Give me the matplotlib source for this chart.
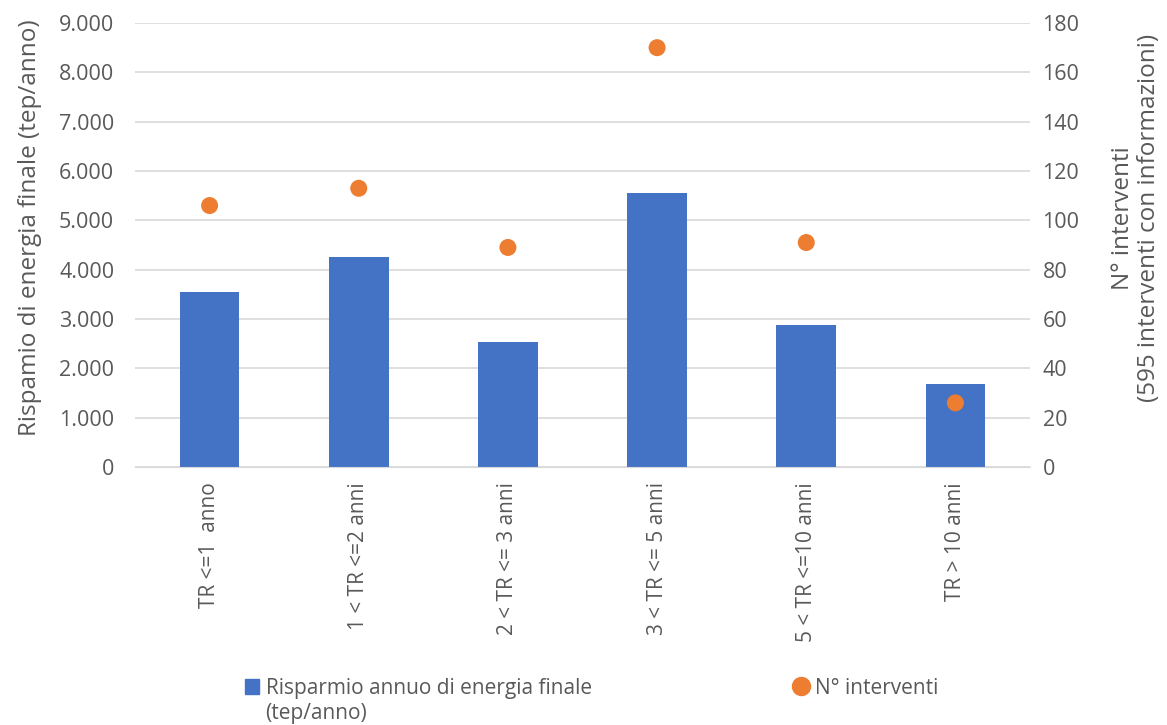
import matplotlib.pyplot as plt
from matplotlib.ticker import FuncFormatter
from matplotlib.lines import Line2D
from matplotlib.patches import Patch

# Data
categories = ['TR <=1  anno', '1 < TR <=2 anni', '2 < TR <= 3 anni',
              '3 < TR <= 5 anni', '5 < TR <=10 anni', 'TR > 10 anni']
risparmio = [3550, 4250, 2540, 5560, 2880, 1680]   # tep/anno
interventi = [106, 113, 89, 170, 91, 26]             # N° interventi

BLUE = '#4472C4'
ORANGE = '#ED7D31'
GREY = '#595959'

plt.rcParams['font.family'] = ['Open Sans', 'DejaVu Sans']

fig = plt.figure(figsize=(11.67, 7.25), dpi=100)
ax = fig.add_axes([135 / 1167, 1 - 467 / 725, 895 / 1167, 444 / 725])
ax2 = ax.twinx()

x = range(len(categories))
ax.bar(x, risparmio, width=0.4, color=BLUE, zorder=2)
ax2.scatter(x, interventi, s=150, color=ORANGE, zorder=3, edgecolors='none')

ax.set_xlim(-0.5, len(categories) - 0.5)
ax.set_ylim(0, 9000)
ax.set_yticks(range(0, 9001, 1000))
ax.yaxis.set_major_formatter(FuncFormatter(lambda v, p: f'{int(v):,}'.replace(',', '.')))
ax2.set_ylim(0, 180)
ax2.set_yticks(range(0, 181, 20))

ax.grid(axis='y', color='#D9D9D9', linewidth=1.2, zorder=0)
ax.set_axisbelow(True)
for a in (ax, ax2):
    for s in a.spines.values():
        s.set_visible(False)
    a.tick_params(length=0, labelsize=15.5, colors=GREY)
ax.spines['bottom'].set_visible(True)
ax.spines['bottom'].set_color('#D9D9D9')

ax.set_xticks(list(x))
ax.set_xticklabels(categories, rotation=90, fontsize=15, color=GREY)
ax.tick_params(axis='x', pad=11)
ax.tick_params(axis='y', pad=15)
ax2.tick_params(axis='y', pad=9)

ax.set_ylabel('Rispamio di energia finale (tep/anno)', fontsize=17.5, color=GREY, labelpad=12)
ax.yaxis.label.set_y(0.54)
ax2.set_ylabel('N° interventi\n(595 interventi con informazioni)', fontsize=17.5,
               color=GREY, labelpad=23, linespacing=1.1)
ax2.yaxis.label.set_y(0.56)

# legend: handle sits on the first line, second line of the label added below
handles = [Patch(color=BLUE, label='Risparmio annuo di energia finale'),
           Line2D([], [], marker='o', color=ORANGE, linestyle='none', markersize=13,
                  label='N° interventi')]
leg = fig.legend(handles=handles, loc='upper left', bbox_to_anchor=(226 / 1167, 1 - 659 / 725),
                 ncol=2, frameon=False, fontsize=15, labelcolor=GREY, columnspacing=9.7,
                 handlelength=0.7, handletextpad=0.3, handleheight=0.7)

fig.canvas.draw()
bb = leg.get_texts()[0].get_window_extent().transformed(fig.transFigure.inverted())
fig.text(bb.x0, bb.y0 - 25 / 725, '(tep/anno)', fontsize=15, color=GREY,
         ha='left', va='bottom')

fig.savefig('out.png', dpi=100)
